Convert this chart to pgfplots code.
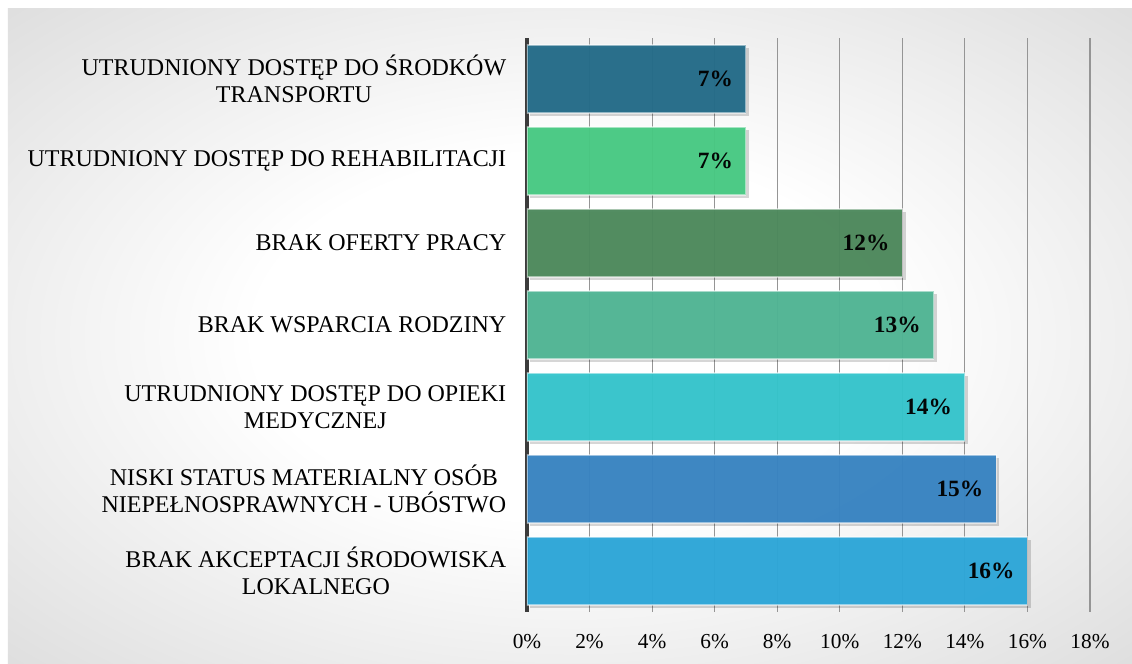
\documentclass[border=0pt]{standalone}
\usepackage{fontspec}
\setmainfont{Liberation Serif}
\usepackage{pgfplots}
\pgfplotsset{compat=1.18}

% colours
\definecolor{cTransport}{HTML}{246C89}
\definecolor{cRehab}{HTML}{48CA83}
\definecolor{cPraca}{HTML}{4D895C}
\definecolor{cRodzina}{HTML}{50B594}
\definecolor{cOpieka}{HTML}{35C5CC}
\definecolor{cStatus}{HTML}{3884C2}
\definecolor{cAkcept}{HTML}{2DA7D9}
\definecolor{gridgray}{HTML}{959595}
\definecolor{axisgray}{HTML}{3C3C3C}

\pgfdeclareradialshading{bgshade}{\pgfpoint{0bp}{0bp}}{%
  color(0bp)=(white); color(14bp)=(white); color(46bp)=(black!19); color(75bp)=(black!27)}

\begin{document}
\begin{tikzpicture}[x=0.75pt,y=0.75pt]
  % page: 1132 x 664 px, plot area lower-left at (527,612) px from the top-left
  \fill[white] (-527,-52) rectangle (605,612);
  \shade[shading=bgshade] (-519,-52) rectangle (605,603);
  \useasboundingbox (-527,-52) rectangle (605,612);

  \begin{axis}[
      at={(0,0)}, anchor=south west,
      scale only axis,
      width=422.25pt, height=430.5pt,
      xbar,
      bar width=51pt,
      xmin=0, xmax=18,
      ymin=-0.5, ymax=6.5,
      y dir=reverse,
      xtick={0,2,...,18},
      xticklabel={\pgfmathprintnumber{\tick}\%},
      /pgf/number format/assume math mode=true,
      ytick={0,...,6},
      yticklabels={
        {UTRUDNIONY DOSTĘP DO ŚRODKÓW\\TRANSPORTU},
        {UTRUDNIONY DOSTĘP DO REHABILITACJI},
        {BRAK OFERTY PRACY},
        {BRAK WSPARCIA RODZINY},
        {UTRUDNIONY DOSTĘP DO OPIEKI\\MEDYCZNEJ},
        {NISKI STATUS MATERIALNY OSÓB\\NIEPEŁNOSPRAWNYCH - UBÓSTWO},
        {BRAK AKCEPTACJI ŚRODOWISKA\\LOKALNEGO}},
      yticklabel style={align=center, font=\fontsize{18}{20.5}\selectfont, xshift=-12pt},
      xticklabel style={font=\fontsize{16}{19}\selectfont, yshift=-13pt},
      major tick length=0pt,
      axis y line*=left,
      axis x line*=bottom,
      x axis line style={draw=none},
      y axis line style={draw=axisgray, line width=2.6pt, -},
      xmajorgrids,
      major grid style={draw=gridgray, line width=0.9pt},
      nodes near coords={\pgfmathprintnumber{\pgfplotspointmeta}\%},
      point meta=x,
      every node near coord/.append style={anchor=east, xshift=-6pt,
        font=\fontsize{17.5}{20}\selectfont\bfseries, text=black},
      every axis plot/.append style={bar shift=0pt, fill opacity=0.96,
        draw=white, draw opacity=0.5, line width=0.8pt,
        preaction={fill=black, fill opacity=0.16, draw=none,
          transform canvas={shift={(2.5pt,-2.5pt)}}}},
    ]
    \addplot[fill=cTransport] coordinates {(7,0)};
    \addplot[fill=cRehab]     coordinates {(7,1)};
    \addplot[fill=cPraca]     coordinates {(12,2)};
    \addplot[fill=cRodzina]   coordinates {(13,3)};
    \addplot[fill=cOpieka]    coordinates {(14,4)};
    \addplot[fill=cStatus]    coordinates {(15,5)};
    \addplot[fill=cAkcept]    coordinates {(16,6)};
  \end{axis}
\end{tikzpicture}
\end{document}
